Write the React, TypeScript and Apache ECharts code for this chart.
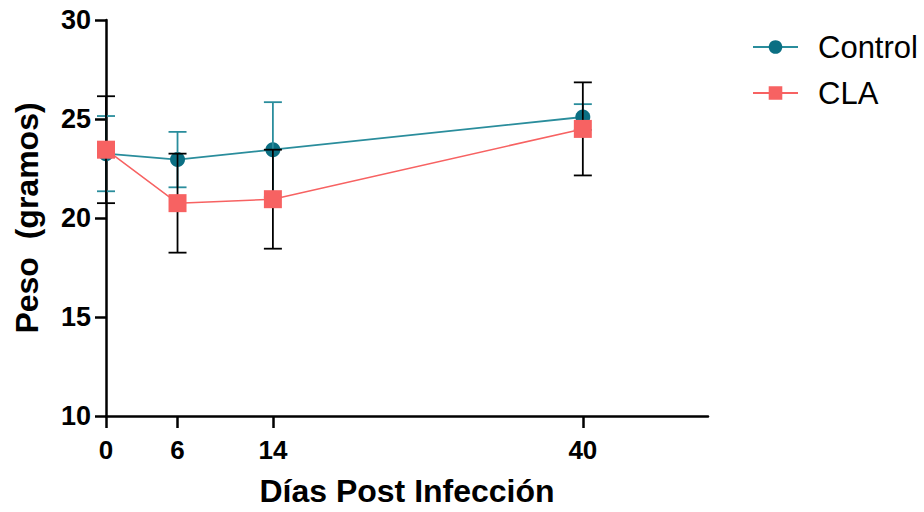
import React, { useEffect, useRef } from "react";
import * as echarts from "echarts";

const days = [0, 6, 14, 40];
const tickDays = [0, 6, 14, 40];
const controlMean = [23.25, 22.95, 23.45, 25.1];
const controlErr = [1.9, 1.4, 2.4, 0.65];
const claMean = [23.45, 20.75, 20.95, 24.5];
const claErr = [2.7, 2.5, 2.5, 2.35];

const TEAL_MARK = "#0b6f83";
const TEAL_LINE = "#2a8d9c";
const CLA_COLOR = "#f76262";
const FONT = "'Liberation Sans', Arial, sans-serif";

function errData(mean: number[], err: number[]) {
  return days.map((d, i) => [d, mean[i] - err[i], mean[i] + err[i]]);
}

function errRender(color: string) {
  return (params: any, api: any) => {
    const x = api.value(0);
    const lo = api.coord([x, api.value(1)]);
    const hi = api.coord([x, api.value(2)]);
    const half = 9;
    const style = { stroke: color, lineWidth: 1.8 };
    return {
      type: "group",
      children: [
        { type: "line", shape: { x1: lo[0], y1: lo[1], x2: hi[0], y2: hi[1] }, style },
        { type: "line", shape: { x1: lo[0] - half, y1: lo[1], x2: lo[0] + half, y2: lo[1] }, style },
        { type: "line", shape: { x1: hi[0] - half, y1: hi[1], x2: hi[0] + half, y2: hi[1] }, style },
      ],
    };
  };
}

export default function App() {
  const ref = useRef<HTMLDivElement>(null);
  useEffect(() => {
    if (!ref.current) return;
    const chart = echarts.init(ref.current, undefined, { renderer: "svg" });
    chart.setOption({
      animation: false,
      backgroundColor: "#ffffff",
      grid: { left: 106, right: 216, top: 20, bottom: 92, containLabel: false },
      legend: {
        orient: "vertical",
        left: 747,
        top: 24,
        itemWidth: 45,
        itemHeight: 17,
        itemGap: 10,
        textStyle: { fontFamily: FONT, fontSize: 31, color: "#000", padding: [0, 0, 0, 15], lineHeight: 36 },
        data: ["Control", "CLA"],
      },
      xAxis: {
        type: "value",
        min: 0,
        max: 50.5,
        splitLine: { show: false },
        axisLine: { show: true, lineStyle: { color: "#000", width: 2.5 } },
        axisTick: { show: true, length: 12, lineStyle: { color: "#000", width: 2.5 }, customValues: tickDays },
        axisLabel: {
          customValues: tickDays,
          fontFamily: FONT,
          fontSize: 26,
          fontWeight: "bold",
          color: "#000",
          margin: 21,
        },
        name: "Días Post Infección",
        nameLocation: "middle",
        nameGap: 59,
        nameTextStyle: { fontFamily: FONT, fontSize: 32, fontWeight: "bold", color: "#000" },
      },
      yAxis: {
        type: "value",
        min: 10,
        max: 30,
        interval: 5,
        splitLine: { show: false },
        axisLine: { show: true, onZero: false, lineStyle: { color: "#000", width: 2.5 } },
        axisTick: { show: true, length: 11, lineStyle: { color: "#000", width: 2.5 } },
        axisLabel: {
          fontFamily: FONT,
          fontSize: 27,
          fontWeight: "bold",
          color: "#000",
          margin: 15,
        },
        name: "Peso  (gramos)",
        nameLocation: "middle",
        nameGap: 63,
        nameTextStyle: { fontFamily: FONT, fontSize: 32, fontWeight: "bold", color: "#000" },
      },
      series: [
        {
          name: "Control",
          type: "line",
          data: days.map((d, i) => [d, controlMean[i]]),
          symbol: "circle",
          symbolSize: 15,
          itemStyle: { color: TEAL_MARK },
          lineStyle: { color: TEAL_LINE, width: 1.8 },
          z: 2,
        },
        {
          name: "ControlErr",
          type: "custom",
          data: errData(controlMean, controlErr),
          renderItem: errRender(TEAL_LINE),
          encode: { x: 0, y: [1, 2] },
          z: 3,
        },
        {
          name: "CLAErr",
          type: "custom",
          data: errData(claMean, claErr),
          renderItem: errRender("#000000"),
          encode: { x: 0, y: [1, 2] },
          z: 4,
        },
        {
          name: "CLA",
          type: "line",
          data: days.map((d, i) => [d, claMean[i]]),
          symbol: "rect",
          symbolSize: 18,
          itemStyle: { color: CLA_COLOR },
          lineStyle: { color: CLA_COLOR, width: 1.5 },
          z: 5,
        },
      ],
    });
    return () => chart.dispose();
  }, []);
  return (
    <div
      ref={ref}
      style={{ position: "fixed", left: 0, top: 0, width: 924, height: 512 }}
    />
  );
}
